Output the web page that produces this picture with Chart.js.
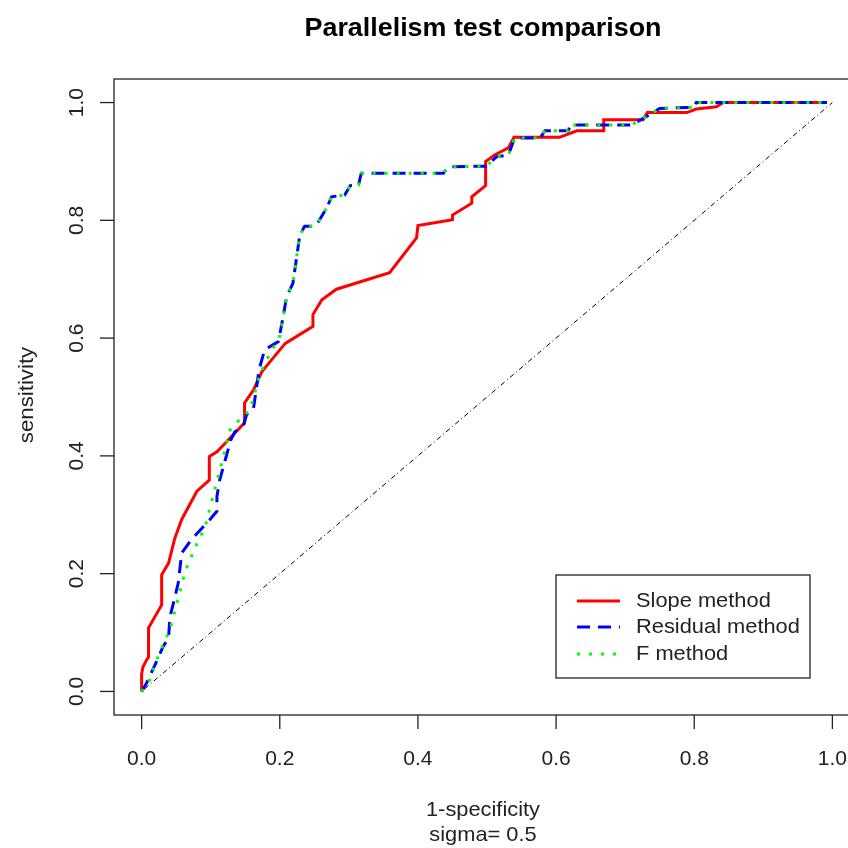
<!DOCTYPE html>
<html>
<head>
<meta charset="utf-8">
<title>Parallelism test comparison</title>
<script src="https://cdn.jsdelivr.net/npm/chart.js@4.4.1/dist/chart.umd.min.js"></script>
<style>
  html, body { margin: 0; padding: 0; background: #fff; overflow: hidden; }
  #wrap { width: 848px; height: 848px; overflow: hidden; }
  canvas { display: block; }
</style>
</head>
<body>
<div id="wrap"><canvas id="rocChart" width="880" height="848"></canvas></div>
<script>
// ROC curves (1-specificity vs sensitivity) for three parallelism tests
const SLOPE_X = [0, 0, 0.002, 0.008, 0.010, 0.010, 0.029, 0.029, 0.039, 0.048, 0.058, 0.080, 0.098, 0.098,
  0.109, 0.123, 0.135, 0.149, 0.149, 0.162, 0.174, 0.186, 0.208, 0.248, 0.248, 0.261, 0.282, 0.359,
  0.398, 0.400, 0.450, 0.450, 0.478, 0.478, 0.498, 0.498, 0.511, 0.531, 0.539, 0.605, 0.630, 0.669,
  0.669, 0.726, 0.732, 0.789, 0.803, 0.832, 0.842, 0.992];
const SLOPE_Y = [0, 0.030, 0.042, 0.055, 0.058, 0.108, 0.147, 0.198, 0.218, 0.260, 0.292, 0.340, 0.359, 0.399,
  0.407, 0.424, 0.439, 0.456, 0.490, 0.512, 0.543, 0.560, 0.591, 0.620, 0.640, 0.665, 0.683, 0.711,
  0.770, 0.791, 0.801, 0.809, 0.829, 0.840, 0.859, 0.900, 0.911, 0.923, 0.941, 0.941, 0.952, 0.952,
  0.971, 0.971, 0.983, 0.983, 0.989, 0.993, 1.000, 1.000];

const RESIDUAL_X = [0, 0.007, 0.024, 0.031, 0.039, 0.041, 0.046, 0.053, 0.058, 0.072, 0.099, 0.109, 0.109,
  0.113, 0.121, 0.129, 0.135, 0.147, 0.152, 0.162, 0.170, 0.178, 0.198, 0.205, 0.210, 0.219, 0.229,
  0.236, 0.252, 0.268, 0.275, 0.294, 0.302, 0.314, 0.318, 0.437, 0.444, 0.499, 0.514, 0.531, 0.540,
  0.577, 0.584, 0.618, 0.620, 0.709, 0.726, 0.750, 0.798, 0.803, 0.992];
const RESIDUAL_Y = [0, 0.014, 0.057, 0.076, 0.091, 0.127, 0.150, 0.184, 0.235, 0.258, 0.292, 0.306, 0.331,
  0.359, 0.393, 0.427, 0.441, 0.450, 0.470, 0.481, 0.546, 0.580, 0.594, 0.637, 0.671, 0.693, 0.775,
  0.790, 0.790, 0.821, 0.840, 0.843, 0.859, 0.860, 0.880, 0.880, 0.891, 0.892, 0.908, 0.911, 0.940,
  0.940, 0.952, 0.952, 0.962, 0.962, 0.973, 0.990, 0.992, 1.000, 1.000];

const F_X = [0, 0.012, 0.022, 0.031, 0.041, 0.051, 0.063, 0.077, 0.092, 0.109, 0.121, 0.128, 0.142, 0.157,
  0.171, 0.181, 0.200, 0.205, 0.210, 0.219, 0.229, 0.236, 0.252, 0.268, 0.275, 0.294, 0.302, 0.314,
  0.318, 0.437, 0.444, 0.499, 0.514, 0.531, 0.540, 0.577, 0.584, 0.618, 0.620, 0.709, 0.726, 0.750,
  0.798, 0.803, 0.992];
const F_Y = [0, 0.020, 0.054, 0.079, 0.105, 0.150, 0.204, 0.243, 0.280, 0.357, 0.410, 0.444, 0.462, 0.478,
  0.538, 0.563, 0.603, 0.637, 0.671, 0.693, 0.775, 0.790, 0.790, 0.821, 0.840, 0.843, 0.859, 0.860,
  0.880, 0.880, 0.891, 0.892, 0.908, 0.911, 0.940, 0.940, 0.952, 0.952, 0.962, 0.962, 0.973, 0.990,
  0.992, 1.000, 1.000];

const CHANCE_X = [0, 1];
const CHANCE_Y = [0, 1];

const TICKS = [0, 0.2, 0.4, 0.6, 0.8, 1.0];
const TICK_LABELS = ['0.0', '0.2', '0.4', '0.6', '0.8', '1.0'];
const SERIES_NAMES = ['Slope method', 'Residual method', 'F method'];

const FONT = '"Liberation Sans", Arial, sans-serif';
const INK = '#222';

function toPoints(xs, ys) {
  return xs.map((x, i) => ({ x: x, y: ys[i] }));
}

// text slightly widened along its baseline, optionally rotated
function drawText(ctx, text, x, y, stretch, angle) {
  ctx.save();
  ctx.translate(x, y);
  if (angle) ctx.rotate(angle);
  ctx.scale(stretch, 1);
  ctx.fillText(text, 0, 0);
  ctx.restore();
}

// base-graphics look: box, outside ticks, rotated y labels, boxed legend
const basePlot = {
  id: 'basePlot',
  afterDraw(chart) {
    const ctx = chart.ctx;
    const area = chart.chartArea;
    const xs = chart.scales.x;
    const ys = chart.scales.y;
    ctx.save();

    ctx.strokeStyle = INK;
    ctx.lineWidth = 1.3;
    ctx.strokeRect(area.left, area.top, area.right - area.left, area.bottom - area.top);

    ctx.fillStyle = INK;
    ctx.font = '21px ' + FONT;
    ctx.textAlign = 'center';
    ctx.textBaseline = 'middle';
    TICKS.forEach((v, i) => {
      const px = xs.getPixelForValue(v);
      ctx.beginPath();
      ctx.moveTo(px, area.bottom);
      ctx.lineTo(px, area.bottom + 14);
      ctx.stroke();
      drawText(ctx, TICK_LABELS[i], px, area.bottom + 44, 1);

      const py = ys.getPixelForValue(v);
      ctx.beginPath();
      ctx.moveTo(area.left - 14, py);
      ctx.lineTo(area.left, py);
      ctx.stroke();
      drawText(ctx, TICK_LABELS[i], area.left - 37, py, 1, -Math.PI / 2);
    });

    // titles
    ctx.fillStyle = '#000';
    ctx.font = 'bold 25px ' + FONT;
    drawText(ctx, 'Parallelism test comparison', 483, 29, 1.075);
    ctx.fillStyle = INK;
    ctx.font = '21px ' + FONT;
    drawText(ctx, '1-specificity', 483, 810, 1.04);
    drawText(ctx, 'sigma= 0.5', 483, 835, 1.04);
    drawText(ctx, 'sensitivity', 27, 395, 1.06, -Math.PI / 2);

    // legend
    ctx.lineWidth = 1.3;
    ctx.strokeStyle = INK;
    ctx.fillStyle = '#fff';
    ctx.fillRect(556, 575, 254, 103);
    ctx.strokeRect(556, 575, 254, 103);
    const rows = [601, 627, 654];
    ctx.textAlign = 'left';
    SERIES_NAMES.forEach((name, i) => {
      const ds = chart.data.datasets.find(d => d.label === name);
      ctx.save();
      ctx.strokeStyle = ds.borderColor;
      ctx.lineWidth = ds.borderWidth;
      ctx.setLineDash(ds.borderDash || []);
      ctx.beginPath();
      ctx.moveTo(577, rows[i]);
      ctx.lineTo(620, rows[i]);
      ctx.stroke();
      ctx.restore();
      ctx.fillStyle = INK;
      drawText(ctx, name, 636, rows[i], 1.04);
    });
    ctx.restore();
  }
};

new Chart(document.getElementById('rocChart').getContext('2d'),
{
  type: 'line',
  data:
  {
    datasets:
    [
      {
        label: 'F method',
        data: toPoints(F_X, F_Y),
        borderColor: '#00ff00',
        borderWidth: 3,
        borderDash: [3, 9],
        order: 0
      },
      {
        label: 'Residual method',
        data: toPoints(RESIDUAL_X, RESIDUAL_Y),
        borderColor: '#0000ff',
        borderWidth: 3,
        borderDash: [13, 8],
        order: 1
      },
      {
        label: 'Slope method',
        data: toPoints(SLOPE_X, SLOPE_Y),
        borderColor: '#ff0000',
        borderWidth: 3,
        order: 2
      },
      {
        label: 'chance',
        data: toPoints(CHANCE_X, CHANCE_Y),
        borderColor: '#000',
        borderWidth: 1,
        borderDash: [1, 3, 5, 3],
        order: 3
      }
    ]
  },
  options:
  {
    responsive: false,
    animation: false,
    events: [],
    layout: { padding: { left: 114, top: 79, right: 20, bottom: 133 } },
    elements:
    {
      point: { radius: 0 },
      line: { tension: 0, borderCapStyle: 'butt', borderJoinStyle: 'miter', fill: false }
    },
    scales:
    {
      x: { type: 'linear', min: -0.04, max: 1.04, display: false },
      y: { type: 'linear', min: -0.04, max: 1.04, display: false }
    },
    plugins:
    {
      legend: { display: false },
      title: { display: false },
      tooltip: { enabled: false }
    }
  },
  plugins: [basePlot]
});
</script>
</body>
</html>
